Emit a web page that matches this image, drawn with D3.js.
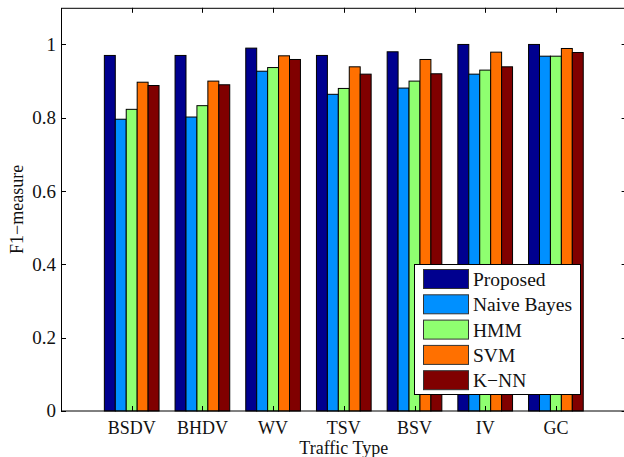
<!DOCTYPE html>
<html><head><meta charset="utf-8">
<script src="https://cdn.jsdelivr.net/npm/d3@7"></script>
<style>html,body{margin:0;padding:0;background:#fff;overflow:hidden}text{font-family:"Liberation Serif","DejaVu Serif",serif;fill:#111}</style>
</head><body><svg id="c" width="624" height="457"></svg>
<script>
const categories = ["BSDV","BHDV","WV","TSV","BSV","IV","GC"];
const seriesNames = ["Proposed","Naive Bayes","HMM","SVM","K\u2212NN"];
const proposed = [0.97,0.97,0.99,0.97,0.98,1.0,1.0];
const naiveBayes = [0.796,0.802,0.927,0.864,0.881,0.919,0.968];
const hmm = [0.823,0.833,0.937,0.880,0.900,0.930,0.968];
const svm = [0.897,0.900,0.969,0.939,0.959,0.979,0.989];
const knn = [0.888,0.890,0.959,0.919,0.920,0.939,0.978];
const yTicks = [0,0.2,0.4,0.6,0.8,1];
const colors = ["#00008f","#0090ff","#8fff70","#ff7000","#800000"];
const series = [proposed,naiveBayes,hmm,svm,knn];

const svg = d3.select("#c");
const L = 61, R = 626.6, T = 7.8, B = 411;
const x = d3.scaleLinear().domain([0,8]).range([L,R]);
const y = d3.scaleLinear().domain([0,1.1]).range([B,T]);
const bw = 0.1547;

const g = svg.append("g");
series.forEach((vals,j)=>{
  g.selectAll(null).data(vals).enter().append("rect")
    .attr("x",(d,i)=>x(i+1+(j-2.5)*bw))
    .attr("width",x(bw)-x(0))
    .attr("y",d=>y(d))
    .attr("height",d=>y(0)-y(d))
    .attr("fill",colors[j]).attr("stroke","#000").attr("stroke-width",1);
});

// frame
svg.append("rect").attr("x",L+0.5).attr("y",T+0.5).attr("width",R-L).attr("height",B-T-0.5)
  .attr("fill","none").attr("stroke","#000").attr("stroke-width",1);

// y ticks
const tl = 5;
yTicks.forEach(t=>{
  const yy = Math.round(y(t))+0.5;
  svg.append("line").attr("x1",L).attr("x2",L+tl).attr("y1",yy).attr("y2",yy).attr("stroke","#000");
  svg.append("line").attr("x1",R-tl).attr("x2",R).attr("y1",yy).attr("y2",yy).attr("stroke","#000");
  svg.append("text").attr("x",L-5).attr("y",y(t)).attr("dy","0.34em").attr("text-anchor","end")
    .attr("font-size",19).text(d3.format("")(t));
});
// x ticks
categories.forEach((c,i)=>{
  const xx = Math.round(x(i+1))+0.5;
  svg.append("line").attr("x1",xx).attr("x2",xx).attr("y1",T).attr("y2",T+tl).attr("stroke","#000");
  svg.append("line").attr("x1",xx).attr("x2",xx).attr("y1",B-tl).attr("y2",B).attr("stroke","#000");
  svg.append("text").attr("x",x(i+1)).attr("y",434).attr("text-anchor","middle").attr("font-size",18).text(c);
});
svg.append("text").attr("x",(L+R)/2).attr("y",454).attr("text-anchor","middle").attr("font-size",18).text("Traffic Type");
svg.append("text").attr("transform",`translate(23,${(T+B)/2}) rotate(-90)`).attr("text-anchor","middle").attr("font-size",18).text("F1\u2212measure");

// legend
const lg = svg.append("g");
lg.append("rect").attr("x",414.5).attr("y",264.5).attr("width",166).attr("height",130).attr("fill","#fff").attr("stroke","#000");
seriesNames.forEach((n,j)=>{
  const yy = 269.5 + j*25.3;
  lg.append("rect").attr("x",423.5).attr("y",yy).attr("width",45).attr("height",19).attr("fill",colors[j]).attr("stroke","#333");
  lg.append("text").attr("x",473).attr("y",yy+16.5).attr("font-size",19.5).text(n);
});
</script></body></html>
